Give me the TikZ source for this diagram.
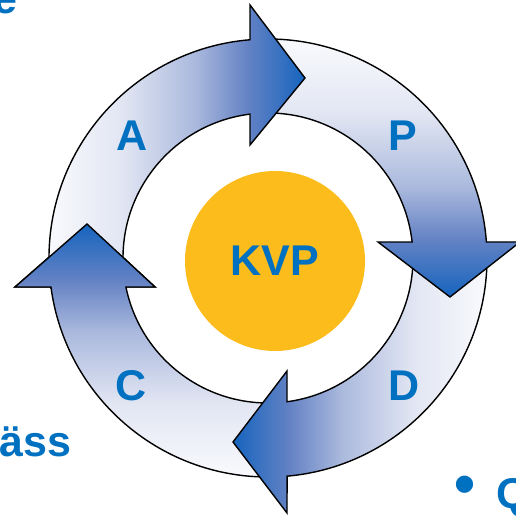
\documentclass[tikz,border=0pt]{standalone}
\usepackage{xcolor}
\usepackage{fontspec}
\setmainfont{Liberation Sans}
\usepackage{tikz}
\definecolor{kvpText}{RGB}{0,112,192}
\definecolor{kvpGold}{RGB}{251,188,28}
\definecolor{kvpWhite}{RGB}{250,251,253}
\definecolor{kvpPale}{RGB}{226,230,243}
\definecolor{kvpLight}{RGB}{170,185,221}
\definecolor{kvpMid}{RGB}{100,130,196}
\definecolor{kvpBlue}{RGB}{22,100,190}
\pgfdeclarehorizontalshading{kvpShade}{100bp}{color(0bp)=(kvpWhite); color(25bp)=(kvpWhite); color(40bp)=(kvpPale); color(54bp)=(kvpLight); color(64bp)=(kvpMid); color(75bp)=(kvpBlue); color(100bp)=(kvpBlue)}

\begin{document}
\begin{tikzpicture}[x = 1pt, y = 1pt,
		ringArrow/.style = {shading = kvpShade, draw = black, line width = 1.4pt},
		bigText/.style = {text = kvpText, inner sep = 0pt, font = \fontsize{43}{50}\selectfont\bfseries}]
			\useasboundingbox (0,0) rectangle (516,517);

			\begin{scope}[shift = {(268,259)}]
				\def\rOut{219}
				\def\rIn{145}

				% C
				\shadedraw[ringArrow, shading angle = 90] (272:\rOut) arc[start angle = 272, end angle = 187.61, radius = \rOut] -- (-253,-29) -- (-181,34) -- (-113,-29) -- (191.54:\rIn) arc[start angle = 191.54, end angle = 272, radius = \rIn] -- cycle;
				% D
				\shadedraw[ringArrow, shading angle = 180] (2:\rOut) arc[start angle = 2, end angle = -85, radius = \rOut] -- (19,-255) -- (-35,-184) -- (19,-113) -- (-82.47:\rIn) arc[start angle = -82.47, end angle = 2, radius = \rIn] -- cycle;
				% P
				\shadedraw[ringArrow, shading angle = 270] (92:\rOut) arc[start angle = 92, end angle = 4.19, radius = \rOut] -- (252,16) -- (182,-39) -- (110,16) -- (6.33:\rIn) arc[start angle = 6.33, end angle = 92, radius = \rIn] -- cycle;
				% A
				\shadedraw[ringArrow, shading angle = 0] (183:\rOut) arc[start angle = 183, end angle = 94.71, radius = \rOut] -- (-18,253) -- (37,180) -- (-18,113) -- (97.13:\rIn) arc[start angle = 97.13, end angle = 183, radius = \rIn] -- cycle;

				\begin{scope}
					\clip (-262,-31) rectangle (-100,42);
					\shadedraw[ringArrow, shading angle = 90] (272:\rOut) arc[start angle = 272, end angle = 187.61, radius = \rOut] -- (-253,-29) -- (-181,34) -- (-113,-29) -- (191.54:\rIn) arc[start angle = 191.54, end angle = 272, radius = \rIn] -- cycle;
				\end{scope}

				\node[bigText, circle, fill = kvpGold, minimum size = 180pt] (kvp) at (7,-3) {KVP};
			\end{scope}

			\node[bigText] (labelA) at (132,381) {A};
			\node[bigText] (labelP) at (403,381) {P};
			\node[bigText] (labelC) at (131,131) {C};
			\node[bigText] (labelD) at (404,131) {D};

			\node[bigText, anchor = base east] (fragE) at (18,503) {e};
			\node[bigText, anchor = base west] (fragAss) at (-1,60) {äss};
			\node[bigText, font = \fontsize{60}{60}\selectfont\bfseries] (fragBullet) at (465,27) {•};
			\node[bigText, anchor = base west] (fragQ) at (496,9) {Q};
		\end{tikzpicture}
\end{document}
